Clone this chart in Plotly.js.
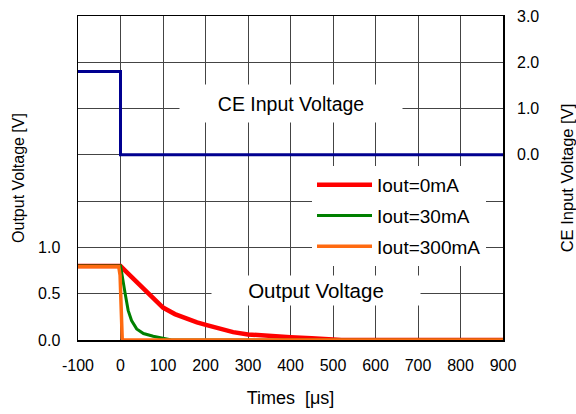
<!DOCTYPE html>
<html>
<head>
<meta charset="utf-8">
<script src="https://cdn.plot.ly/plotly-3.0.1.min.js"></script>
<style>html,body{margin:0;padding:0;background:#fff;}#chart{width:576px;height:414px;}</style>
</head>
<body>
<div id="chart"></div>
<script>
// Time axis values [µs]
const ceTime = [-100, 0, 0, 900];
const ceVolt = [1.8, 1.8, 0, 0];

const t0mA = [-100, 0, 15, 30, 45, 62, 80, 100, 128, 156, 180, 203, 235, 265, 300, 330, 360, 400, 450, 500, 520, 900];
const v0mA = [0.8, 0.8, 0.73, 0.66, 0.59, 0.52, 0.43, 0.35, 0.28, 0.23, 0.19, 0.16, 0.115, 0.085, 0.06, 0.048, 0.04, 0.03, 0.02, 0.012, 0, 0];

const t30mA = [-100, 0, 3, 7, 11, 18, 26, 38, 54, 77, 100, 120, 900];
const v30mA = [0.8, 0.8, 0.72, 0.63, 0.5, 0.32, 0.21, 0.12, 0.07, 0.04, 0.02, 0, 0];

const t300mA = [-100, -4, -1, 2, 4, 6, 900];
const v300mA = [0.79, 0.79, 0.7, 0.2, 0.02, 0, 0];

const xTicks = [-100, 0, 100, 200, 300, 400, 500, 600, 700, 800, 900];
const yTickVals = [0, 0.5, 1.0, 1.5, 2.0, 2.5, 3.0, 3.5];
const yTickText = ['0.0', '0.5', '1.0', '', '', '', '', ''];
const y2TickVals = [0, 1, 2, 3];
const y2TickText = ['0.0', '1.0', '2.0', '3.0'];

const seriesNames = ['Iout=0mA', 'Iout=30mA', 'Iout=300mA'];
const FONT = 'Liberation Sans, Arial, sans-serif';

const traces = [
  {x: t0mA, y: v0mA, name: seriesNames[0], mode: 'lines', line: {color: '#FF0000', width: 4.5}, legendgroup: 'a'},
  {x: t30mA, y: v30mA, name: seriesNames[1], mode: 'lines', line: {color: '#008000', width: 3}, legendgroup: 'b'},
  {x: t300mA, y: v300mA, name: seriesNames[2], mode: 'lines', line: {color: '#FF6A10', width: 3.5}, legendgroup: 'c'},
  {x: ceTime, y: ceVolt, name: 'CE', mode: 'lines', yaxis: 'y2', showlegend: false, line: {color: '#000090', width: 3}}
];

const layout = {
  width: 576, height: 414,
  margin: {l: 78, r: 73, t: 16, b: 74},
  paper_bgcolor: '#fff', plot_bgcolor: '#fff',
  font: {family: FONT, size: 16, color: '#000'},
  showlegend: true,
  legend: {x: 0.5506, y: 0.537, xanchor: 'left', yanchor: 'top', bgcolor: '#fff',
           font: {family: FONT, size: 19, color: '#000'}, tracegroupgap: 3, itemwidth: 55,
           borderwidth: 0},
  xaxis: {range: [-100, 900], tickvals: xTicks, ticktext: xTicks.map(String),
          showgrid: true, gridcolor: '#444', gridwidth: 1, zeroline: false,
          showline: true, linecolor: '#000', linewidth: 1.5, mirror: true,
          ticks: '', ticklabelstandoff: 10,
          title: {text: 'Times\u00a0\u00a0[μs]', font: {family: FONT, size: 18}, standoff: 18}},
  yaxis: {range: [0, 3.5], tickvals: yTickVals, ticktext: yTickText,
          showgrid: true, gridcolor: '#444', gridwidth: 1, zeroline: false,
          showline: true, linecolor: '#000', linewidth: 1.5, mirror: true,
          ticks: '', ticklabelstandoff: 13,
          title: {text: 'Output Voltage [V]', font: {family: FONT, size: 16}, standoff: 9}},
  yaxis2: {range: [-4, 3], overlaying: 'y', side: 'right', tickvals: y2TickVals, ticktext: y2TickText,
           showgrid: false, zeroline: false, showline: false, ticks: '', ticklabelstandoff: 13,
           title: {text: 'CE Input Voltage [V]', font: {family: FONT, size: 16.5}, standoff: 24}},
  annotations: [
    {x: 400, y: 1.1, xref: 'x', yref: 'y2', text: 'CE Input Voltage', showarrow: false,
     bgcolor: '#fff', width: 222, height: 37, borderpad: 0, font: {family: FONT, size: 19.5, color: '#000'}},
    {x: 460, y: 0.54, xref: 'x', yref: 'y', text: 'Output Voltage', showarrow: false,
     bgcolor: '#fff', width: 208, height: 29, borderpad: 0, font: {family: FONT, size: 20.5, color: '#000'}}
  ]
};

Plotly.newPlot('chart', traces, layout, {displayModeBar: false, staticPlot: true});
</script>
</body>
</html>
